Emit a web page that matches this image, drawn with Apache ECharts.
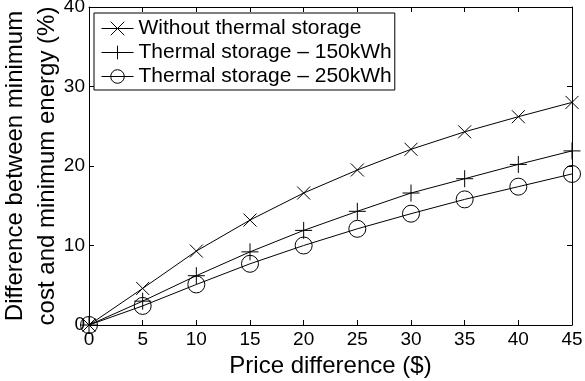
<!DOCTYPE html>
<html>
<head>
<meta charset="utf-8">
<script src="https://cdn.jsdelivr.net/npm/echarts@6/dist/echarts.min.js"></script>
<style>
html,body{margin:0;padding:0;background:#fff;}
#chart{width:585px;height:381px;}
</style>
</head>
<body>
<div id="chart"></div>
<script>
var priceDiff = [0, 5, 10, 15, 20, 25, 30, 35, 40, 45];
var withoutStorage = [0, 4.6, 9.3, 13.2, 16.6, 19.5, 22.1, 24.3, 26.2, 28.0];
var storage150 = [0, 3.0, 6.2, 9.2, 11.9, 14.3, 16.6, 18.4, 20.2, 21.9];
var storage250 = [0, 2.4, 5.1, 7.7, 10.0, 12.1, 14.0, 15.8, 17.4, 19.0];
var seriesNames = ['Without thermal storage', 'Thermal storage \u2013 150kWh', 'Thermal storage \u2013 250kWh'];
var xTicks = {min: 0, max: 45, interval: 5};
var yTicks = {min: 0, max: 40, interval: 10};

function pairs(xs, ys) { return xs.map(function (x, i) { return [x, ys[i]]; }); }

var FONT = '"Liberation Sans", Arial, Helvetica, sans-serif';
var chart = echarts.init(document.getElementById('chart'), null, {renderer: 'canvas'});

function mkSeries(name, data, symbol, size) {
  return {
    name: name,
    type: 'line',
    data: data,
    symbol: symbol,
    symbolSize: size,
    showAllSymbol: true,
    clip: false,
    animation: false,
    lineStyle: {color: '#000', width: 1},
    itemStyle: {color: 'rgba(0,0,0,0)', borderColor: '#000', borderWidth: 1},
    emphasis: {disabled: true}
  };
}

var tickStyle = {inside: true, length: 5, lineStyle: {color: '#000', width: 1}};
var option = {
  backgroundColor: '#fff',
  animation: false,
  textStyle: {fontFamily: FONT},
  grid: {left: 89, right: 13, top: 7, bottom: 56, containLabel: false, outerBoundsMode: 'none'},
  legend: {
    orient: 'vertical',
    left: 94, top: 13,
    data: seriesNames,
    itemWidth: 32, itemHeight: 17, itemGap: 3,
    padding: [5, 3, 3, 7],
    borderColor: '#000', borderWidth: 1, backgroundColor: '#fff',
    lineStyle: {width: 1, color: '#000'},
    itemStyle: {borderWidth: 1, borderColor: '#000', color: 'rgba(0,0,0,0)'},
    textStyle: {fontFamily: FONT, fontSize: 21, color: '#000'},
    selectedMode: false
  },
  xAxis: [{
    type: 'value', min: xTicks.min, max: xTicks.max, interval: xTicks.interval,
    position: 'bottom',
    name: 'Price difference ($)', nameLocation: 'middle', nameGap: 21,
    nameTextStyle: {fontFamily: FONT, fontSize: 24, color: '#000'},
    axisLine: {show: true, onZero: false, lineStyle: {color: '#000', width: 1}},
    axisTick: tickStyle,
    axisLabel: {fontFamily: FONT, fontSize: 19, color: '#000', margin: 5},
    splitLine: {show: false}
  }, {
    type: 'value', min: xTicks.min, max: xTicks.max, interval: xTicks.interval,
    position: 'top',
    axisLine: {show: true, onZero: false, lineStyle: {color: '#000', width: 1}},
    axisTick: tickStyle,
    axisLabel: {show: false},
    splitLine: {show: false}
  }],
  yAxis: [{
    type: 'value', min: yTicks.min, max: yTicks.max, interval: yTicks.interval,
    position: 'left',
    name: 'Difference between minimum\ncost and minimum energy (%)',
    nameLocation: 'middle', nameGap: 26, nameRotate: 90,
    nameMoveOverlap: false,
    nameTextStyle: {fontFamily: FONT, fontSize: 24, lineHeight: 32, color: '#000', align: 'center'},
    axisLine: {show: true, onZero: false, lineStyle: {color: '#000', width: 1}},
    axisTick: tickStyle,
    axisLabel: {fontFamily: FONT, fontSize: 19, color: '#000', margin: 4},
    splitLine: {show: false}
  }, {
    type: 'value', min: yTicks.min, max: yTicks.max, interval: yTicks.interval,
    position: 'right',
    axisLine: {show: true, onZero: false, lineStyle: {color: '#000', width: 1}},
    axisTick: tickStyle,
    axisLabel: {show: false},
    splitLine: {show: false}
  }],
  series: [
    mkSeries(seriesNames[0], pairs(priceDiff, withoutStorage), 'path://M0,0L10,10M10,0L0,10', 13),
    mkSeries(seriesNames[1], pairs(priceDiff, storage150), 'path://M5,0L5,10M0,5L10,5', 17),
    mkSeries(seriesNames[2], pairs(priceDiff, storage250), 'circle', 17)
  ]
};
chart.setOption(option);
</script>
</body>
</html>
